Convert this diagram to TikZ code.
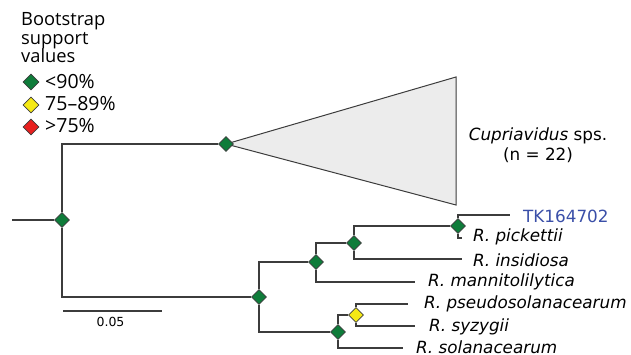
\documentclass[tikz,border=0pt]{standalone}
\usepackage{fontspec}
\usetikzlibrary{shapes.geometric}
\newfontfamily\labfont{DejaVu Sans}
\newfontfamily\legfont{Open Sans}
\definecolor{bsgreen}{HTML}{0F7C3A}
\definecolor{bsyellow}{HTML}{F5E914}
\definecolor{bsred}{HTML}{E8201F}
\definecolor{branch}{HTML}{3C3C3C}
\definecolor{tkblue}{HTML}{3A4FA8}
\definecolor{clade}{HTML}{ECECEC}
\tikzset{
  bnode/.style={diamond, draw=branch, line width=0.6pt, inner sep=0pt, minimum width=15pt, minimum height=15pt},
  gnode/.style={bnode, fill=bsgreen},
  ynode/.style={bnode, fill=bsyellow},
  rnode/.style={bnode, fill=bsred},
  lgd/.style={bnode, minimum width=16pt, minimum height=16pt},
  br/.style={draw=branch, line width=1.3pt},
  taxon/.style={anchor=base west, inner sep=0pt, font=\labfont\fontsize{16.8}{20}\selectfont\itshape},
  legtext/.style={anchor=base west, inner sep=0pt, font=\legfont\fontsize{19.5}{20}\selectfont},
}
\begin{document}
\begin{tikzpicture}[x=1pt,y=-1pt]
\useasboundingbox (0,0) rectangle (631,355);
% legend
\node[anchor=base west, inner sep=0pt, align=left, font=\legfont\fontsize{18.3}{18.5}\selectfont] (legtitle) at (21,63) {Bootstrap\\support\\values};
\node[lgd, fill=bsgreen] (lg1) at (31,82) {};
\node[lgd, fill=bsyellow] (lg2) at (31,105) {};
\node[lgd, fill=bsred] (lg3) at (31,127) {};
\node[legtext] (lt1) at (45,88.5) {<90\%};
\node[legtext] (lt2) at (45,111) {75–89\%};
\node[legtext] (lt3) at (45,133) {>75\%};
% collapsed clade
\coordinate (apex) at (226,144);
\coordinate (ctop) at (456,77);
\coordinate (cbot) at (456,205);
\draw[draw=branch, line width=1pt, fill=clade] (apex) -- (ctop) -- (cbot) -- cycle;
\node[anchor=center, align=center, inner sep=0pt, font=\labfont\fontsize{16.8}{20}\selectfont] (cupl) at (538,145) {\textit{Cupriavidus} sps.\\(n = 22)};
% leaf coordinates
\coordinate (start) at (12,220);
\coordinate (tk) at (510,215);
\coordinate (pick) at (462,238);
\coordinate (ins) at (462,259);
\coordinate (man) at (415,282);
\coordinate (pse) at (408,304);
\coordinate (syz) at (415,326);
\coordinate (sol) at (403,348);
% internal nodes
\node[gnode] (root) at (62,220) {};
\node[gnode] (cup) at (apex) {};
\node[gnode] (ral) at (259,297) {};
\node[gnode] (a) at (316,262) {};
\node[gnode] (b) at (354,243) {};
\node[gnode] (c) at (458,226) {};
\node[gnode] (d) at (338,332) {};
\node[ynode] (e) at (356,315) {};
% branches
\draw[br] (start) -- (root);
\draw[br] (root) |- (cup);
\draw[br] (root) |- (ral);
\draw[br] (ral) |- (a);
\draw[br] (ral) |- (d);
\draw[br] (a) |- (b);
\draw[br] (a) |- (man);
\draw[br] (b) |- (c);
\draw[br] (b) |- (ins);
\draw[br] (c) |- (tk);
\draw[br] (c) |- (pick);
\draw[br] (d) |- (e);
\draw[br] (d) |- (sol);
\draw[br] (e) |- (pse);
\draw[br] (e) |- (syz);
% labels
\node[taxon, font=\labfont\fontsize{16.8}{20}\selectfont, text=tkblue] (tkl) at (523,222.7) {TK164702};
\node[taxon] (pickl) at (473,241.7) {R. pickettii};
\node[taxon] (insl) at (473,266.7) {R. insidiosa};
\node[taxon] (manl) at (428,286.7) {R. mannitolilytica};
\node[taxon] (psel) at (424,308.3) {R. pseudosolanacearum};
\node[taxon] (syzl) at (429,331.7) {R. syzygii};
\node[taxon] (soll) at (416,353.3) {R. solanacearum};
% scale bar
\coordinate (sb1) at (63,311);
\coordinate (sb2) at (162,311);
\draw[br, line width=1.1pt] (sb1) -- (sb2);
\node[anchor=base, inner sep=0pt, font=\labfont\fontsize{12.5}{14}\selectfont] (sbl) at (110.5,326) {0.05};
\end{tikzpicture}
\end{document}
